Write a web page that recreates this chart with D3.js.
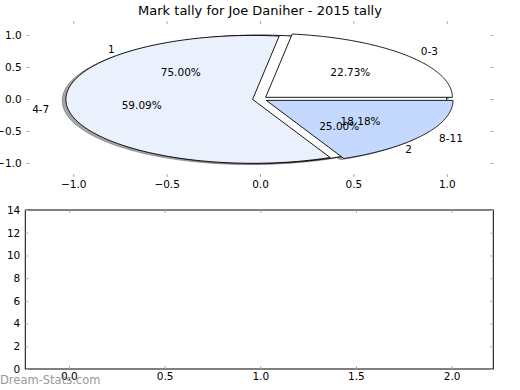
<!DOCTYPE html>
<html><head><meta charset="utf-8">
<script src="https://cdn.jsdelivr.net/npm/d3@7"></script>
<style>
body{margin:0;background:#fff;}
text{font-family:"DejaVu Sans",sans-serif;fill:#000;}
</style></head>
<body><svg id="c" width="520" height="390"></svg>
<script>
// ---- data ----
const title = "Mark tally for Joe Daniher - 2015 tally";
const pieALabels = ["0-3", "4-7", "8-11"];
const pieAValues = [5, 13, 4];           // 22.73%, 59.09%, 18.18%
const pieAColors = ["#ffffff", "#eaf0fc", "#c5d9fe"];
const pieAExplode = [0.04, 0.04, 0.04];
const pieBLabels = ["1", "2"];
const pieBValues = [3, 1];               // 75.00%, 25.00%
const pieBColors = ["#ffffff", "#ffffff"];
const topXTicks = [-1.0, -0.5, 0.0, 0.5, 1.0];
const topYTicks = [-1.0, -0.5, 0.0, 0.5, 1.0];
const botXTicks = [0.0, 0.5, 1.0, 1.5, 2.0];
const botYTicks = [0, 2, 4, 6, 8, 10, 12, 14];

const svg = d3.select("#c");
const tickColor = "#aaaaaa";
const fmt1 = d3.format(".1f");

// ---- top axes (pie) ----
const tx = d3.scaleLinear().domain([-1.25, 1.25]).range([26.6, 493.4]);
const ty = d3.scaleLinear().domain([-1.22, 1.22]).range([177, 21]);

function styleAxis(g){
  g.select(".domain").remove();
  g.selectAll(".tick line").attr("stroke", tickColor);
  g.selectAll(".tick text").style("font-family","DejaVu Sans").style("font-size","10.5px").attr("fill","#000");
}
function drawAxes(x, y, xt, yt, yfmt){
  const [x0,x1] = x.range(), [y0,y1] = y.range();
  svg.append("g").attr("transform",`translate(0,${y0})`)
    .call(d3.axisBottom(x).tickValues(xt).tickFormat(fmt1).tickSizeInner(-3).tickSizeOuter(0).tickPadding(4)).call(styleAxis);
  svg.append("g").attr("transform",`translate(0,${y1})`)
    .call(d3.axisTop(x).tickValues(xt).tickFormat("").tickSizeInner(-3).tickSizeOuter(0)).call(styleAxis);
  svg.append("g").attr("transform",`translate(${x0},0)`)
    .call(d3.axisLeft(y).tickValues(yt).tickFormat(yfmt).tickSizeInner(-3).tickSizeOuter(0).tickPadding(5)).call(styleAxis);
  svg.append("g").attr("transform",`translate(${x1},0)`)
    .call(d3.axisRight(y).tickValues(yt).tickFormat("").tickSizeInner(-3).tickSizeOuter(0)).call(styleAxis);
}

// pie geometry via d3.pie (counter-clockwise from east, like matplotlib)
const pieGen = d3.pie().sort(null).startAngle(Math.PI/2).endAngle(Math.PI/2 - 2*Math.PI);
const line = d3.line().x(d => tx(d[0])).y(d => ty(d[1]));
function arcPts(a0, a1, cx, cy){
  const n = 120, pts = [];
  for (let i = 0; i <= n; i++){
    const a = a0 + (a1 - a0) * i / n;
    pts.push([cx + Math.sin(a), cy + Math.cos(a)]);
  }
  return pts;
}
function wedgePts(a0, a1, cx, cy){
  return [[cx, cy], ...arcPts(a0, a1, cx, cy), [cx, cy]];
}
function buildPie(values, labels, colors, explode){
  const arcs = pieGen(values);
  const total = d3.sum(values);
  return arcs.map((a, i) => {
    const m = (a.startAngle + a.endAngle) / 2;
    const e = explode ? explode[i] : 0;
    const cx = e * Math.sin(m), cy = e * Math.cos(m);
    return {a, m, cx, cy, label: labels[i], color: colors[i], pct: 100 * values[i] / total};
  });
}
const pieB = buildPie(pieBValues, pieBLabels, pieBColors, null);
const pieA = buildPie(pieAValues, pieALabels, pieAColors, pieAExplode);

const gPie = svg.append("g");
// shadows (beneath all wedges)
[...pieB, ...pieA].forEach(w => {
  gPie.append("path")
    .attr("d", line(wedgePts(w.a.startAngle, w.a.endAngle, w.cx - 0.02, w.cy - 0.02)))
    .attr("fill", "rgba(75,75,75,0.5)").attr("stroke", "rgba(75,75,75,0.5)").attr("stroke-width", 0.8);
});
// underlying pie (white, only its rim shows)
pieB.forEach(w => {
  gPie.append("path")
    .attr("d", line(wedgePts(w.a.startAngle, w.a.endAngle, w.cx, w.cy)))
    .attr("fill", w.color).attr("stroke", "none");
  gPie.append("path")
    .attr("d", line(arcPts(w.a.startAngle, w.a.endAngle, w.cx, w.cy)))
    .attr("fill", "none").attr("stroke", "#000").attr("stroke-width", 0.9);
});
// exploded pie on top
pieA.forEach(w => {
  gPie.append("path")
    .attr("d", line(wedgePts(w.a.startAngle, w.a.endAngle, w.cx, w.cy)))
    .attr("fill", w.color).attr("stroke", "#000").attr("stroke-width", 0.9).attr("stroke-linejoin","miter");
});
// labels
[...pieB, ...pieA].forEach(w => {
  const lx = w.cx + 1.1 * Math.sin(w.m), ly = w.cy + 1.1 * Math.cos(w.m);
  gPie.append("text").attr("x", tx(lx)).attr("y", ty(ly))
    .attr("text-anchor", lx > 0 ? "start" : "end").attr("dominant-baseline", "central")
    .style("font-size", "10.5px").text(w.label);
  const px = w.cx + 0.6 * Math.sin(w.m), py = w.cy + 0.6 * Math.cos(w.m);
  gPie.append("text").attr("x", tx(px)).attr("y", ty(py))
    .attr("text-anchor", "middle").attr("dominant-baseline", "central")
    .style("font-size", "10.5px").text(d3.format(".2f")(w.pct) + "%");
});
drawAxes(tx, ty, topXTicks, topYTicks, fmt1);

svg.append("text").attr("x", 260).attr("y", 10).attr("text-anchor", "middle")
  .attr("dominant-baseline", "central").style("font-size", "13px").text(title);

// ---- bottom axes (empty) ----
const bx = d3.scaleLinear().domain([-0.228, 2.218]).range([25.3, 493.3]);
const by = d3.scaleLinear().domain([0, 14]).range([369, 210]);
svg.append("rect").attr("x", bx.range()[0]).attr("y", by.range()[1])
  .attr("width", bx.range()[1] - bx.range()[0]).attr("height", by.range()[0] - by.range()[1])
  .attr("fill", "#fff").attr("stroke", "#000").attr("stroke-width", 1);
drawAxes(bx, by, botXTicks, botYTicks, d3.format("d"));

// watermark
svg.append("text").attr("x", 0).attr("y", 380).attr("dominant-baseline", "central")
  .style("font-size", "11.5px").style("fill", "#888").attr("opacity", 0.85).text("Dream-Stats.com");
</script></body></html>
